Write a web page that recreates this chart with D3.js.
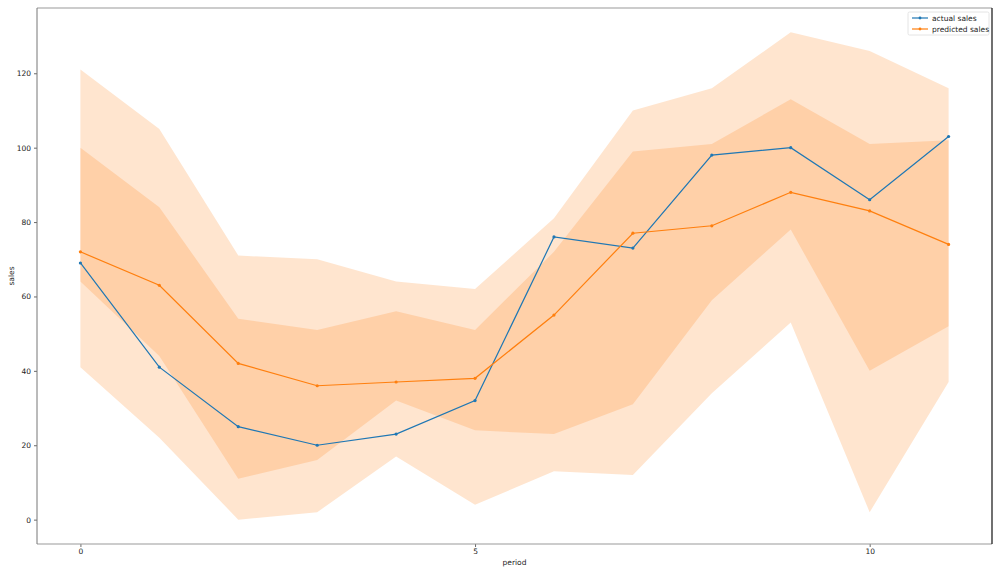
<!DOCTYPE html>
<html>
<head>
<meta charset="utf-8">
<script src="https://cdn.jsdelivr.net/npm/d3@7"></script>
<style>
  body { margin: 0; background: #fff; }
  svg { font-family: "DejaVu Sans", sans-serif; }
</style>
</head>
<body>
<svg></svg>
<script>
// values
let periods = [0, 1, 2, 3, 4, 5, 6, 7, 8, 9, 10, 11];
let actualSales = [69, 41, 25, 20, 23, 32, 76, 73, 98, 100, 86, 103];
let predictedSales = [72, 63, 42, 36, 37, 38, 55, 77, 79, 88, 83, 74];
let outerUpper = [121, 105, 71, 70, 64, 62, 81, 110, 116, 131, 126, 116];
let outerLower = [41, 22, 0, 2, 17, 4, 13, 12, 34, 53, 2, 37];
let innerUpper = [100, 84, 54, 51, 56, 51, 72, 99, 101, 113, 101, 102];
let innerLower = [64, 44, 11, 16, 32, 24, 23, 31, 59, 78, 40, 52];
let xTicks = [0, 5, 10];
let yTicks = [0, 20, 40, 60, 80, 100, 120];

let width = 1000;
let height = 574;
let margin = {top: 8, right: 8, bottom: 30, left: 37};

let svg = d3.select('svg')
    .attr('width', width)
    .attr('height', height);

// matplotlib style 5% padding around data
let xPad = (d3.max(periods) - d3.min(periods)) * 0.05;
let yMin = d3.min(outerLower), yMax = d3.max(outerUpper);
let yPad = (yMax - yMin) * 0.05;

let x = d3.scaleLinear()
    .domain([d3.min(periods) - xPad, d3.max(periods) + xPad])
    .range([margin.left, width - margin.right]);
let y = d3.scaleLinear()
    .domain([yMin - yPad, yMax + yPad])
    .range([height - margin.bottom, margin.top]);

let orange = '#ff7f0e';
let blue = '#1f77b4';

let area = (lo, hi) => d3.area()
    .x((d, i) => x(periods[i]))
    .y0((d, i) => y(lo[i]))
    .y1((d, i) => y(hi[i]));

// confidence bands, wide one first
svg.append('path')
    .datum(periods)
    .attr('d', area(outerLower, outerUpper))
    .attr('fill', orange)
    .attr('fill-opacity', 0.2);
svg.append('path')
    .datum(periods)
    .attr('d', area(innerLower, innerUpper))
    .attr('fill', orange)
    .attr('fill-opacity', 0.2);

let line = d3.line()
    .x(d => x(d[0]))
    .y(d => y(d[1]));

let series = [
    {name: 'actual sales', color: blue, values: actualSales},
    {name: 'predicted sales', color: orange, values: predictedSales}
];

series.forEach(s => {
    let pts = periods.map((p, i) => [p, s.values[i]]);
    svg.append('path')
        .datum(pts)
        .attr('d', line)
        .attr('fill', 'none')
        .attr('stroke', s.color)
        .attr('stroke-width', 1.2);
    svg.append('g')
        .selectAll('circle')
        .data(pts)
        .enter()
        .append('circle')
        .attr('cx', d => x(d[0]))
        .attr('cy', d => y(d[1]))
        .attr('r', 1.6)
        .attr('fill', s.color);
});

// axes
let xAxis = svg.append('g')
    .attr('transform', `translate(0,${height - margin.bottom})`)
    .call(d3.axisBottom(x).tickValues(xTicks).tickSize(3).tickPadding(2));
let yAxis = svg.append('g')
    .attr('transform', `translate(${margin.left},0)`)
    .call(d3.axisLeft(y).tickValues(yTicks).tickSize(3).tickPadding(3));

[xAxis, yAxis].forEach(a => {
    a.select('.domain').remove();
    a.selectAll('.tick line').attr('stroke', '#444').attr('stroke-width', 0.8);
    a.selectAll('.tick text')
        .attr('fill', '#222')
        .style('font-size', '7.5px')
        .style('font-family', '"DejaVu Sans", sans-serif');
});

// frame
let x0 = margin.left, x1 = width - margin.right;
let y0 = margin.top, y1 = height - margin.bottom;
svg.append('line').attr('x1', x0).attr('x2', x1).attr('y1', y0).attr('y2', y0)
    .attr('stroke', '#999').attr('stroke-width', 1);
svg.append('line').attr('x1', x0).attr('x2', x1).attr('y1', y1).attr('y2', y1)
    .attr('stroke', '#999').attr('stroke-width', 1);
svg.append('line').attr('x1', x0).attr('x2', x0).attr('y1', y0).attr('y2', y1)
    .attr('stroke', '#777').attr('stroke-width', 1);
svg.append('line').attr('x1', x1).attr('x2', x1).attr('y1', y0).attr('y2', y1)
    .attr('stroke', '#111').attr('stroke-width', 1.2);

// axis titles
svg.append('text')
    .attr('x', (x0 + x1) / 2)
    .attr('y', height - 9)
    .attr('text-anchor', 'middle')
    .style('font-size', '7.5px')
    .attr('fill', '#222')
    .text('period');
svg.append('text')
    .attr('transform', `translate(14,${(y0 + y1) / 2}) rotate(-90)`)
    .attr('text-anchor', 'middle')
    .style('font-size', '7.5px')
    .attr('fill', '#222')
    .text('sales');

// legend
let legend = svg.append('g').attr('transform', `translate(${x1 - 84},${y0 + 4})`);
legend.append('rect')
    .attr('width', 81)
    .attr('height', 23)
    .attr('rx', 1.5)
    .attr('fill', '#fff')
    .attr('fill-opacity', 0.8)
    .attr('stroke', '#ddd')
    .attr('stroke-width', 0.8);
series.forEach((s, i) => {
    let ly = 6 + i * 11;
    legend.append('line')
        .attr('x1', 4).attr('x2', 20)
        .attr('y1', ly).attr('y2', ly)
        .attr('stroke', s.color)
        .attr('stroke-width', 1.2);
    legend.append('circle')
        .attr('cx', 12).attr('cy', ly).attr('r', 1.4)
        .attr('fill', s.color);
    legend.append('text')
        .attr('x', 24)
        .attr('y', ly + 2.6)
        .style('font-size', '7.5px')
        .attr('fill', '#222')
        .text(s.name);
});
</script>
</body>
</html>
